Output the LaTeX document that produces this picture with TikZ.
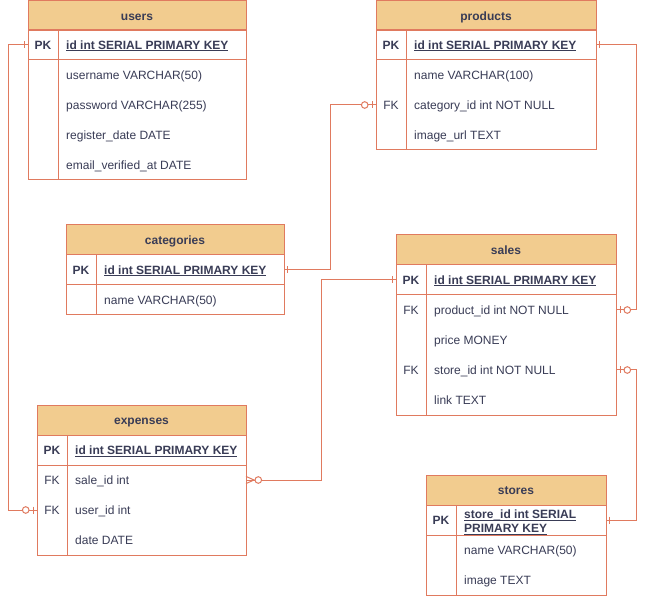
\documentclass[tikz,border=0pt]{standalone}
\usepackage{fontspec}
\setmainfont{Liberation Sans}
\usetikzlibrary{calc}
\definecolor{erline}{HTML}{E07A5F}
\definecolor{erhead}{HTML}{F2CC8F}
\definecolor{ertext}{HTML}{393C56}
\newcommand\erul[1]{\underline{\smash{#1}}}
\begin{document}
\begin{tikzpicture}[x=1pt,y=-1pt,
  erln/.style={draw=erline, line width=1pt},
  hdr/.style={erln, fill=erhead, outer sep=0pt, inner sep=0pt, minimum height=30pt,
     text height=8.6pt, text depth=0pt, font=\bfseries\fontsize{12}{14}\selectfont, text=ertext, anchor=north west},
  cell/.style={anchor=base west, inner sep=0pt, text=ertext, font=\fontsize{12}{14}\selectfont},
  keycell/.style={anchor=base, inner sep=0pt, text=ertext, font=\fontsize{12}{14}\selectfont},
  pkcell/.style={keycell, font=\bfseries\fontsize{12}{14}\selectfont},
  idcell/.style={cell, font=\bfseries\fontsize{12}{14}\selectfont},
  conn/.style={erln},
  mbar/.pic={\draw[erln] (0,-3.5) -- (0,3.5);},
  mcirc/.pic={\draw[erln, fill=white] (0,0) circle[radius=3.3];}
]
\useasboundingbox[fill=white] (0,0) rectangle (646,596);

% ---------- users ----------
\node[hdr, minimum width=218pt] (users) at (28,1) {users};
\draw[erln] (28,30) rectangle (246,180);
\draw[erln] (28,60) -- (246,60);
\draw[erln] (58,30) -- (58,180);
\node[pkcell] (users-pk) at (43,49.3) {PK};
\node[idcell] (users-id) at (66,49.3) {\erul{id int SERIAL PRIMARY KEY}};
\node[cell] (users-r1) at (66,79.3) {username VARCHAR(50)};
\node[cell] (users-r2) at (66,109.3) {password VARCHAR(255)};
\node[cell] (users-r3) at (66,139.3) {register\_date DATE};
\node[cell] (users-r4) at (66,169.3) {email\_verified\_at DATE};
\coordinate (users-pk-w) at (28,45);

% ---------- products ----------
\node[hdr, minimum width=220pt] (products) at (376,1) {products};
\draw[erln] (376,30) rectangle (596,150);
\draw[erln] (376,60) -- (596,60);
\draw[erln] (406,30) -- (406,150);
\node[pkcell] (prod-pk) at (391,49.3) {PK};
\node[idcell] (prod-id) at (414,49.3) {\erul{id int SERIAL PRIMARY KEY}};
\node[cell] (prod-r1) at (414,79.3) {name VARCHAR(100)};
\node[keycell] (prod-fk) at (391,109.3) {FK};
\node[cell] (prod-r2) at (414,109.3) {category\_id int NOT NULL};
\node[cell] (prod-r3) at (414,139.3) {image\_url TEXT};
\coordinate (prod-pk-e) at (596,45);
\coordinate (prod-cat-w) at (376,105);

% ---------- categories ----------
\node[hdr, minimum width=218pt] (categories) at (66,225) {categories};
\draw[erln] (66,255) rectangle (284,315);
\draw[erln] (66,285) -- (284,285);
\draw[erln] (96,255) -- (96,315);
\node[pkcell] (cat-pk) at (81,274.3) {PK};
\node[idcell] (cat-id) at (104,274.3) {\erul{id int SERIAL PRIMARY KEY}};
\node[cell] (cat-r1) at (104,304.3) {name VARCHAR(50)};
\coordinate (cat-pk-e) at (284,270);

% ---------- sales ----------
\node[hdr, minimum width=220pt] (sales) at (396,235) {sales};
\draw[erln] (396,265) rectangle (616,415);
\draw[erln] (396,295) -- (616,295);
\draw[erln] (426,265) -- (426,415);
\node[pkcell] (sales-pk) at (411,284.3) {PK};
\node[idcell] (sales-id) at (434,284.3) {\erul{id int SERIAL PRIMARY KEY}};
\node[keycell] (sales-fk1) at (411,314.3) {FK};
\node[cell] (sales-r1) at (434,314.3) {product\_id int NOT NULL};
\node[cell] (sales-r2) at (434,344.3) {price MONEY};
\node[keycell] (sales-fk2) at (411,374.3) {FK};
\node[cell] (sales-r3) at (434,374.3) {store\_id int NOT NULL};
\node[cell] (sales-r4) at (434,404.3) {link TEXT};
\coordinate (sales-pk-w) at (396,280);
\coordinate (sales-prod-e) at (616,310);
\coordinate (sales-store-e) at (616,370);

% ---------- expenses ----------
\node[hdr, minimum width=209pt] (expenses) at (37,405) {expenses};
\draw[erln] (37,435) rectangle (246,555);
\draw[erln] (37,465) -- (246,465);
\draw[erln] (67,435) -- (67,555);
\node[pkcell] (exp-pk) at (52,454.3) {PK};
\node[idcell] (exp-id) at (75,454.3) {\erul{id int SERIAL PRIMARY KEY}};
\node[keycell] (exp-fk1) at (52,484.3) {FK};
\node[cell] (exp-r1) at (75,484.3) {sale\_id int};
\node[keycell] (exp-fk2) at (52,514.3) {FK};
\node[cell] (exp-r2) at (75,514.3) {user\_id int};
\node[cell] (exp-r3) at (75,544.3) {date DATE};
\coordinate (exp-sale-e) at (246,480);
\coordinate (exp-user-w) at (37,510);

% ---------- stores ----------
\node[hdr, minimum width=180pt] (stores) at (426,475) {stores};
\draw[erln] (426,505) rectangle (606,595);
\draw[erln] (426,535) -- (606,535);
\draw[erln] (456,505) -- (456,595);
\node[pkcell] (stores-pk) at (441,524.3) {PK};
\node[idcell] (stores-id1) at (464,518.3) {\erul{store\_id int SERIAL}};
\node[idcell] (stores-id2) at (464,532.8) {\erul{PRIMARY KEY}};
\node[cell] (stores-r1) at (464,554.3) {name VARCHAR(50)};
\node[cell] (stores-r2) at (464,584.3) {image TEXT};
\coordinate (stores-pk-e) at (606,520);

% ---------- connectors ----------
% users.id -> expenses.user_id
\draw[conn] (users-pk-w) -- ++(-20,0) |- (exp-user-w);
\path (users-pk-w) ++(-3.5,0) pic{mbar};
\path (exp-user-w) ++(-4,0) pic{mbar};
\path (exp-user-w) ++(-11.3,0) pic{mcirc};

% categories.id -> products.category_id
\draw[conn] (cat-pk-e) -- (330,270) |- (prod-cat-w);
\path (cat-pk-e) ++(3.5,0) pic{mbar};
\path (prod-cat-w) ++(-4,0) pic{mbar};
\path (prod-cat-w) ++(-11.3,0) pic{mcirc};

% products.id -> sales.product_id
\draw[conn] (prod-pk-e) -- (636,45) |- (sales-prod-e);
\path (prod-pk-e) ++(3.5,0) pic{mbar};
\path (sales-prod-e) ++(4,0) pic{mbar};
\path (sales-prod-e) ++(11.3,0) pic{mcirc};

% stores.store_id -> sales.store_id
\draw[conn] (sales-store-e) -- (636,370) |- (stores-pk-e);
\path (stores-pk-e) ++(3.5,0) pic{mbar};
\path (sales-store-e) ++(4,0) pic{mbar};
\path (sales-store-e) ++(11.3,0) pic{mcirc};

% sales.id -> expenses.sale_id
\draw[conn] (sales-pk-w) -- (321,280) |- (exp-sale-e);
\path (sales-pk-w) ++(-3.5,0) pic{mbar};
\draw[erln] ($(exp-sale-e)+(0,-3.6)$) -- ($(exp-sale-e)+(8,0)$) -- ($(exp-sale-e)+(0,3.6)$);
\path (exp-sale-e) ++(12.3,0) pic{mcirc};
\end{tikzpicture}
\end{document}
